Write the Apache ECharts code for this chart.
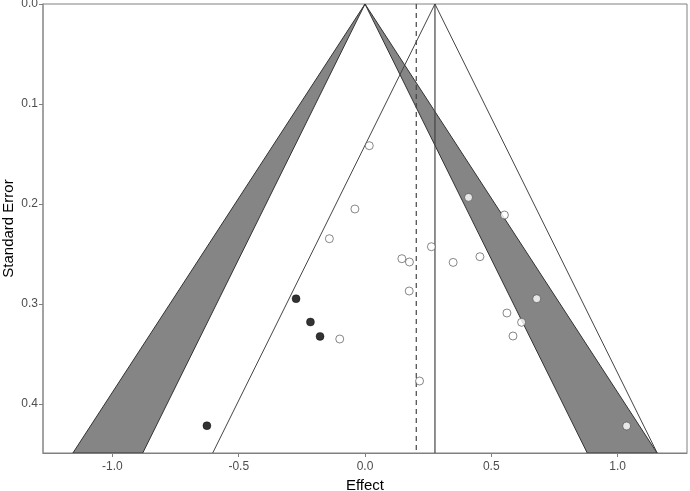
<!DOCTYPE html>
<html>
<head>
<meta charset="utf-8">
<script src="https://cdn.jsdelivr.net/npm/echarts@6/dist/echarts.min.js"></script>
<style>html,body{margin:0;padding:0;background:#fff}#c{width:690px;height:491px}</style>
</head>
<body>
<div id="c"></div>
<script>
// ---- data ----
const studyEffect = [0.017, -0.040, -0.141, 0.146, 0.176, 0.263, 0.349, 0.455, 0.175, -0.100, 0.216, 0.410, 0.552, 0.680, 0.562, 0.620, 0.586, 1.036];
const studySE     = [0.1417, 0.205, 0.2347, 0.2547, 0.258, 0.2427, 0.2584, 0.2527, 0.287, 0.335, 0.377, 0.1934, 0.211, 0.2947, 0.309, 0.3183, 0.332, 0.422];
const filledEffect = [-0.273, -0.216, -0.178, -0.626];
const filledSE     = [0.2947, 0.318, 0.3324, 0.4217];
const estimate = 0.277;      // solid vertical line / pseudo CI centre
const adjusted = 0.203;      // dashed vertical line
const contourCentre = 0;     // contour-enhanced funnel centre
const z05 = 1.96, z01 = 2.576;
const seMax = 0.449;
const xMin = -1.275, xMax = 1.275;
const xTicks = [-1.0, -0.5, 0.0, 0.5, 1.0];
const yTicks = [0.0, 0.1, 0.2, 0.3, 0.4];

const chart = echarts.init(document.getElementById('c'), null, {renderer: 'canvas'});
const FONT = 'Liberation Sans, Arial, sans-serif';

const toPairs = (xs, ys) => xs.map((x, i) => [x, ys[i]]);

const option = {
  animation: false,
  backgroundColor: '#fff',
  grid: {left: 43, right: 3, top: 4, bottom: 38, show: true, borderColor: '#808080', borderWidth: 1,
    containLabel: false, outerBoundsMode: 'none'},
  xAxis: {
    type: 'value', min: xMin, max: xMax,
    name: 'Effect', nameLocation: 'middle', nameGap: 25, nameMoveOverlap: false,
    nameTextStyle: {fontFamily: FONT, fontSize: 15, color: '#000'},
    axisLine: {show: true, onZero: false, lineStyle: {color: '#808080', width: 1}},
    axisTick: {show: true, length: 4, lineStyle: {color: '#808080'}, customValues: xTicks},
    axisLabel: {fontFamily: FONT, fontSize: 12, color: '#4d4d4d', margin: 8, customValues: xTicks,
      formatter: v => v.toFixed(1)},
    splitLine: {show: false}
  },
  yAxis: {
    type: 'value', min: 0, max: seMax, inverse: true,
    name: 'Standard Error', nameLocation: 'middle', nameGap: 27, nameRotate: 90, nameMoveOverlap: false,
    nameTextStyle: {fontFamily: FONT, fontSize: 15, color: '#000'},
    axisLine: {show: true, onZero: false, lineStyle: {color: '#999', width: 1.5}},
    axisTick: {show: true, length: 4, lineStyle: {color: '#808080'}, customValues: yTicks},
    axisLabel: {fontFamily: FONT, fontSize: 12, color: '#4d4d4d', margin: 5, customValues: yTicks,
      formatter: v => v.toFixed(1)},
    splitLine: {show: false}
  },
  series: [
    {
      type: 'custom', z: 1,
      data: [[-1], [1]],
      renderItem: (params, api) => {
        const s = api.value(0);
        const pts = [
          api.coord([contourCentre, 0]),
          api.coord([contourCentre + s * z01 * seMax, seMax]),
          api.coord([contourCentre + s * z05 * seMax, seMax])
        ];
        return {type: 'polygon', shape: {points: pts},
          style: {fill: '#858585', stroke: '#333', lineWidth: 1}};
      },
      clip: true
    },
    {
      type: 'line', z: 2, showSymbol: false, symbol: 'none', clip: true,
      data: [[estimate - z05 * seMax, seMax], [estimate, 0], [estimate + z05 * seMax, seMax]],
      lineStyle: {color: '#444', width: 1}
    },
    {
      type: 'line', z: 2, showSymbol: false, symbol: 'none',
      data: [[estimate, 0], [estimate, seMax]],
      lineStyle: {color: '#444', width: 1.2}
    },
    {
      type: 'line', z: 2, showSymbol: false, symbol: 'none',
      data: [[adjusted, 0], [adjusted, seMax]],
      lineStyle: {color: '#444', width: 1.2, type: [5, 4]}
    },
    {
      type: 'scatter', z: 3, symbol: 'circle', symbolSize: 8,
      data: toPairs(studyEffect, studySE),
      itemStyle: {color: '#fff', borderColor: '#444', borderWidth: 0.8}
    },
    {
      type: 'scatter', z: 3, symbol: 'circle', symbolSize: 8,
      data: toPairs(filledEffect, filledSE),
      itemStyle: {color: '#000', borderColor: '#000', borderWidth: 0.5}
    }
  ]
};
chart.setOption(option);
</script>
</body>
</html>
